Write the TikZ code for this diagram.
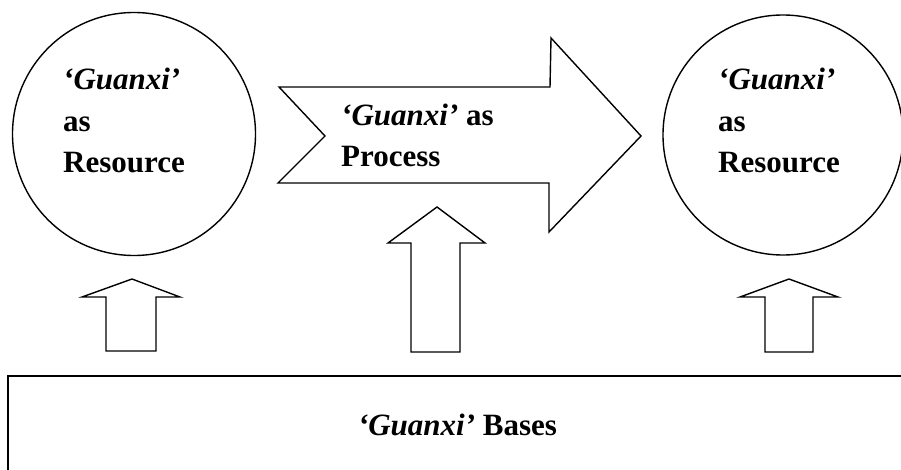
\documentclass[tikz,border=0pt]{standalone}
\usepackage{fontspec}
\setmainfont{Liberation Serif}
\begin{document}
\begin{tikzpicture}[x=1pt,y=-1pt,
  outline/.style={draw=black,line width=1.4pt,line join=miter},
  ring/.style={circle,draw=black,line width=1.4pt,inner sep=0pt},
  lbl/.style={anchor=base west,align=left,inner sep=0pt,
    font=\fontsize{31}{41.5}\selectfont\bfseries}]
  \useasboundingbox (0,0) rectangle (901,470);
  % resource circles
  \node[ring,minimum size=243pt] (resL) at (134,134) {};
  \node[ring,minimum size=240pt] (resR) at (783,135) {};
  % multi-line labels are anchored at the baseline of their last line
  \node[lbl] (txtL) at (63,173) {\textit{‘Guanxi’}\\as\\Resource};
  \node[lbl] (txtR) at (718,173) {\textit{‘Guanxi’}\\as\\Resource};
  % process arrow with notched tail
  \draw[outline] (279,87) -- (550,87) -- (551,38) -- (641,136) -- (549,232)
    -- (549,183) -- (278,183) -- (325,136) -- cycle;
  \node[lbl] (txtP) at (341,167) {\textit{‘Guanxi’} as\\Process};
  % upward block arrows
  \draw[outline] (106,351) -- (106,297) -- (82,297) -- (132,279) -- (180,297)
    -- (156,297) -- (156,351) -- cycle;
  \draw[outline] (411,352) -- (411,243) -- (388,243) -- (437,207) -- (485,243)
    -- (460,243) -- (460,352) -- cycle;
  \draw[outline] (765,352) -- (765,297) -- (740,297) -- (789,279) -- (838,297)
    -- (813,297) -- (813,352) -- cycle;
  % bases box
  \draw[outline] (8,490) -- (8,376) -- (910,376);
  \node[anchor=base,inner sep=0pt,font=\fontsize{31}{37}\selectfont\bfseries]
    (bases) at (457.5,435) {\textit{‘Guanxi’} Bases};
\end{tikzpicture}
\end{document}
